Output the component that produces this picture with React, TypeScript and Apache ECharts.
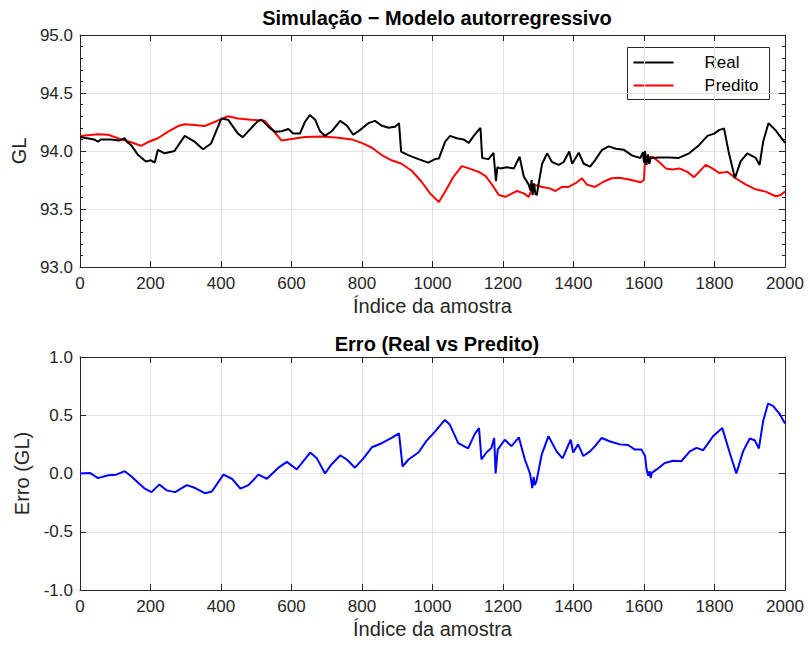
import React, { useEffect, useRef } from "react";
import * as echarts from "echarts";

const titleTop = "Simulação − Modelo autorregressivo";
const titleBottom = "Erro (Real vs Predito)";
const xName = "Índice da amostra";
const yNameTop = "GL";
const yNameBottom = "Erro (GL)";
const legendNames = ["Real", "Predito"];

const realIdx = [0, 20, 40, 51, 60, 88, 110, 127, 133, 145, 165, 187, 201, 212, 221, 240, 268, 297, 325, 349, 372, 401, 420, 448, 462, 485, 505, 515, 534, 553, 572, 591, 605, 624, 638, 652, 667, 681, 695, 714, 738, 757, 775, 794, 818, 837, 855, 875, 894, 905, 911, 931, 960, 988, 1007, 1018, 1036, 1050, 1069, 1088, 1103, 1117, 1136, 1141, 1159, 1173, 1180, 1184, 1192, 1211, 1231, 1247, 1259, 1273, 1278, 1281, 1284, 1288, 1292, 1296, 1300, 1311, 1325, 1339, 1358, 1372, 1388, 1396, 1415, 1429, 1447, 1461, 1481, 1500, 1520, 1543, 1567, 1590, 1597, 1600, 1603, 1607, 1611, 1615, 1619, 1643, 1671, 1699, 1728, 1756, 1780, 1799, 1813, 1827, 1841, 1858, 1874, 1893, 1917, 1928, 1938, 1953, 1973, 2000];
const realVal = [94.12, 94.11, 94.10, 94.08, 94.10, 94.10, 94.09, 94.11, 94.08, 94.05, 93.965, 93.91, 93.92, 93.90, 94.01, 93.98, 94.00, 94.13, 94.08, 94.015, 94.065, 94.28, 94.27, 94.15, 94.12, 94.195, 94.26, 94.27, 94.21, 94.165, 94.17, 94.19, 94.15, 94.15, 94.25, 94.31, 94.27, 94.17, 94.13, 94.17, 94.26, 94.22, 94.14, 94.18, 94.24, 94.26, 94.22, 94.20, 94.21, 94.24, 93.995, 93.965, 93.93, 93.90, 93.93, 93.935, 94.08, 94.13, 94.11, 94.10, 94.07, 94.13, 94.20, 93.94, 93.93, 93.985, 93.74, 93.86, 93.85, 93.86, 93.85, 93.95, 93.78, 93.71, 93.66, 93.75, 93.62, 93.72, 93.63, 93.62, 93.70, 93.89, 93.98, 93.905, 93.88, 93.905, 93.995, 93.89, 93.985, 93.89, 93.865, 93.92, 94.01, 94.04, 94.02, 94.01, 93.96, 93.94, 93.99, 93.90, 94.00, 93.88, 93.97, 93.89, 93.94, 93.945, 93.945, 93.94, 93.98, 94.05, 94.13, 94.15, 94.18, 94.195, 93.98, 93.765, 93.91, 93.98, 93.94, 93.88, 94.08, 94.24, 94.18, 94.07];

const predIdx = [0, 51, 80, 117, 145, 173, 192, 221, 249, 278, 297, 325, 353, 382, 420, 448, 485, 524, 543, 558, 572, 591, 638, 686, 733, 771, 799, 827, 856, 884, 912, 941, 969, 993, 1018, 1036, 1060, 1083, 1103, 1131, 1150, 1169, 1188, 1207, 1226, 1240, 1259, 1273, 1287, 1311, 1330, 1349, 1367, 1386, 1405, 1424, 1438, 1461, 1485, 1508, 1529, 1558, 1590, 1600, 1603, 1624, 1643, 1662, 1681, 1700, 1723, 1742, 1756, 1775, 1794, 1813, 1837, 1860, 1889, 1917, 1945, 1974, 1988, 2000];
const predVal = [94.13, 94.145, 94.14, 94.10, 94.075, 94.045, 94.075, 94.11, 94.165, 94.215, 94.23, 94.225, 94.215, 94.25, 94.30, 94.28, 94.27, 94.26, 94.195, 94.14, 94.09, 94.10, 94.12, 94.125, 94.115, 94.10, 94.07, 94.03, 93.965, 93.92, 93.89, 93.83, 93.735, 93.635, 93.56, 93.65, 93.78, 93.87, 93.85, 93.82, 93.785, 93.71, 93.62, 93.605, 93.635, 93.655, 93.635, 93.605, 93.71, 93.69, 93.68, 93.655, 93.69, 93.69, 93.72, 93.765, 93.71, 93.69, 93.735, 93.765, 93.77, 93.755, 93.73, 93.75, 93.94, 93.95, 93.905, 93.85, 93.84, 93.85, 93.82, 93.775, 93.82, 93.88, 93.85, 93.81, 93.82, 93.765, 93.71, 93.67, 93.65, 93.61, 93.62, 93.65];

const errIdx = [0, 28, 51, 80, 103, 127, 146, 165, 184, 203, 225, 246, 270, 303, 327, 355, 374, 407, 431, 455, 478, 506, 530, 563, 587, 615, 653, 672, 695, 714, 738, 757, 780, 804, 828, 856, 884, 905, 915, 932, 960, 983, 1007, 1035, 1049, 1073, 1101, 1120, 1132, 1139, 1153, 1167, 1175, 1179, 1185, 1205, 1224, 1245, 1262, 1276, 1280, 1283, 1287, 1290, 1295, 1310, 1329, 1352, 1369, 1392, 1399, 1413, 1428, 1447, 1461, 1480, 1504, 1532, 1555, 1574, 1593, 1603, 1607, 1612, 1616, 1619, 1622, 1636, 1659, 1683, 1706, 1730, 1749, 1768, 1796, 1822, 1843, 1862, 1881, 1900, 1914, 1926, 1938, 1952, 1966, 1985, 2000];
const errVal = [0.0, 0.005, -0.04, -0.015, -0.01, 0.02, -0.025, -0.08, -0.13, -0.16, -0.095, -0.145, -0.16, -0.10, -0.125, -0.17, -0.155, -0.01, -0.045, -0.13, -0.10, -0.01, -0.045, 0.05, 0.10, 0.035, 0.18, 0.13, 0.0, 0.08, 0.155, 0.12, 0.05, 0.13, 0.225, 0.26, 0.305, 0.345, 0.06, 0.12, 0.18, 0.28, 0.36, 0.46, 0.42, 0.26, 0.215, 0.34, 0.39, 0.12, 0.18, 0.22, 0.305, 0.0, 0.205, 0.29, 0.235, 0.31, 0.12, 0.005, -0.06, -0.125, -0.03, -0.10, -0.065, 0.165, 0.32, 0.19, 0.13, 0.29, 0.18, 0.25, 0.15, 0.19, 0.235, 0.305, 0.275, 0.25, 0.245, 0.205, 0.205, 0.15, 0.04, -0.02, 0.02, -0.04, 0.005, 0.035, 0.09, 0.11, 0.105, 0.19, 0.22, 0.20, 0.32, 0.39, 0.18, 0.0, 0.19, 0.30, 0.285, 0.215, 0.45, 0.60, 0.58, 0.51, 0.43];

const zip = (a: number[], b: number[]) => a.map((v, i) => [v, b[i]]);

const FONT = "'Liberation Sans', Arial, sans-serif";
const AX = "#262626";
const GRID = "#e3e3e3";
const TICK_FS = 17;
const NAME_FS = 20;
const TITLE_FS = 20;

function xAxisDef(gridIndex: number, top: boolean): any {
  return {
    type: "value",
    gridIndex,
    position: top ? "top" : "bottom",
    min: 0,
    max: 2000,
    interval: 200,
    name: top ? "" : xName,
    nameLocation: "middle",
    nameGap: 29,
    nameTextStyle: { fontSize: NAME_FS, color: AX, fontFamily: FONT },
    axisLine: { show: true, onZero: false, lineStyle: { color: AX, width: 1 } },
    axisTick: { show: true, inside: true, length: 6, lineStyle: { color: AX } },
    axisLabel: {
      show: !top,
      color: AX,
      fontSize: TICK_FS,
      fontFamily: FONT,
      margin: 8,
      formatter: (v: number) => String(v),
    },
    splitLine: { show: !top, lineStyle: { color: GRID, width: 1 } },
  };
}

function yAxisDef(gridIndex: number, right: boolean, min: number, max: number, name: string, minor: boolean): any {
  return {
    type: "value",
    gridIndex,
    position: right ? "right" : "left",
    min,
    max,
    interval: 0.5,
    name: right ? "" : name,
    nameLocation: "middle",
    nameGap: 48,
    nameTextStyle: { fontSize: NAME_FS, color: AX, fontFamily: FONT },
    axisLine: { show: true, onZero: false, lineStyle: { color: AX, width: 1 } },
    axisTick: { show: true, inside: true, length: 6, lineStyle: { color: AX } },
    minorTick: { show: minor, splitNumber: 5, length: 3, lineStyle: { color: AX } },
    axisLabel: {
      show: !right,
      color: AX,
      fontSize: TICK_FS,
      fontFamily: FONT,
      margin: 7,
      formatter: (v: number) => v.toFixed(1),
    },
    splitLine: { show: !right, lineStyle: { color: GRID, width: 1 } },
  };
}

export default function App() {
  const ref = useRef<HTMLDivElement>(null);
  useEffect(() => {
    if (!ref.current) return;
    const chart = echarts.init(ref.current, null, { renderer: "svg" });
    chart.setOption({
      animation: false,
      backgroundColor: "#ffffff",
      textStyle: { fontFamily: FONT },
      title: [
        {
          text: titleTop,
          left: 432,
          top: 3,
          textAlign: "center",
          textStyle: { fontSize: TITLE_FS, fontWeight: "bold", color: "#000", fontFamily: FONT },
        },
        {
          text: titleBottom,
          left: 432,
          top: 329,
          textAlign: "center",
          textStyle: { fontSize: TITLE_FS, fontWeight: "bold", color: "#000", fontFamily: FONT },
        },
      ],
      grid: [
        { left: 80, right: 25, top: 35, height: 232, containLabel: false },
        { left: 80, right: 25, top: 357, height: 233, containLabel: false },
      ],
      xAxis: [xAxisDef(0, false), xAxisDef(0, true), xAxisDef(1, false), xAxisDef(1, true)],
      yAxis: [
        yAxisDef(0, false, 93, 95, yNameTop, true),
        yAxisDef(0, true, 93, 95, "", true),
        yAxisDef(1, false, -1, 1, yNameBottom, false),
        yAxisDef(1, true, -1, 1, "", false),
      ],
      series: [
        {
          name: legendNames[0],
          type: "line",
          xAxisIndex: 0,
          yAxisIndex: 0,
          data: zip(realIdx, realVal),
          showSymbol: false,
          lineStyle: { color: "#000000", width: 2 },
          z: 3,
        },
        {
          name: legendNames[1],
          type: "line",
          xAxisIndex: 0,
          yAxisIndex: 0,
          data: zip(predIdx, predVal),
          showSymbol: false,
          lineStyle: { color: "#ff0000", width: 2 },
          z: 2,
        },
        {
          name: "Erro",
          type: "line",
          xAxisIndex: 2,
          yAxisIndex: 2,
          data: zip(errIdx, errVal),
          showSymbol: false,
          lineStyle: { color: "#0000ff", width: 2 },
        },
      ],
      graphic: [
        {
          type: "group",
          left: 627,
          top: 47,
          z: 100,
          children: [
            {
              type: "rect",
              shape: { x: 0, y: 0, width: 142, height: 52 },
              style: { fill: "#ffffff", stroke: AX, lineWidth: 1 },
            },
            { type: "line", shape: { x1: 6, y1: 15, x2: 46, y2: 15 }, style: { stroke: "#000000", lineWidth: 2 } },
            { type: "line", shape: { x1: 6, y1: 38, x2: 46, y2: 38 }, style: { stroke: "#ff0000", lineWidth: 2 } },
            {
              type: "text",
              x: 77,
              y: 15,
              style: { text: legendNames[0], fontSize: 17, fontFamily: FONT, fill: "#000", verticalAlign: "middle" },
            },
            {
              type: "text",
              x: 77,
              y: 38,
              style: { text: legendNames[1], fontSize: 17, fontFamily: FONT, fill: "#000", verticalAlign: "middle" },
            },
          ],
        },
      ],
    });
    return () => chart.dispose();
  }, []);
  return (
    <div
      ref={ref}
      style={{ position: "absolute", left: 0, top: 0, width: 810, height: 647 }}
    />
  );
}
